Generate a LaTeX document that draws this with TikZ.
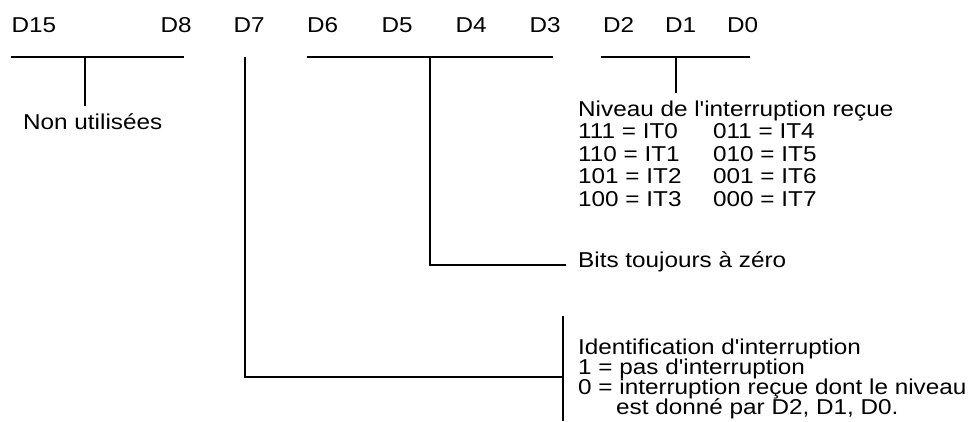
\documentclass[tikz,border=0pt]{standalone}
\usepackage{fontspec}
\newfontfamily\plainsans{Liberation Sans}[FakeStretch=1.13]
\begin{document}
\begin{tikzpicture}[x=1pt,y=-1pt,
  lbl/.style={anchor=base west,inner sep=0pt,font=\plainsans\fontsize{21.5}{21.5}\selectfont},
  wire/.style={line width=1.7pt,line cap=butt}]
\useasboundingbox (0,0) rectangle (972,421);

% register bit names
\node[lbl] (d15) at (11.5,32) {D15};
\node[lbl] (d8)  at (160.5,32) {D8};
\node[lbl] (d7)  at (233.5,32) {D7};
\node[lbl] (d6)  at (307,32) {D6};
\node[lbl] (d5)  at (381.5,32) {D5};
\node[lbl] (d4)  at (455.5,32) {D4};
\node[lbl] (d3)  at (529.5,32) {D3};
\node[lbl] (d2)  at (603,32) {D2};
\node[lbl] (d1)  at (665,32) {D1};
\node[lbl] (d0)  at (727,32) {D0};

% descriptions
\node[lbl] (nonu) at (23,129) {Non utilisées};

\node[lbl] (niv)  at (578,116) {Niveau de l'interruption reçue};
\node[lbl] (l111) at (578,138.5) {111 = IT0};
\node[lbl] (l110) at (578,161) {110 = IT1};
\node[lbl] (l101) at (578,183.5) {101 = IT2};
\node[lbl] (l100) at (578,206) {100 = IT3};
\node[lbl] (l011) at (713,138.5) {011 = IT4};
\node[lbl] (l010) at (713,161) {010 = IT5};
\node[lbl] (l001) at (713,183.5) {001 = IT6};
\node[lbl] (l000) at (713,206) {000 = IT7};

\node[lbl] (bits) at (578,267) {Bits toujours à zéro};

\node[lbl] (ident) at (578,354) {Identification d'interruption};
\node[lbl] (pas)   at (578,374) {1 = pas d'interruption};
\node[lbl] (recue) at (578,394) {0 = interruption reçue dont le niveau};
\node[lbl] (donne) at (616,414) {est donné par D2, D1, D0.};

% bracket over D15..D8
\coordinate (a1) at (11,57);
\coordinate (a2) at (184,57);
\coordinate (am) at (85,57);
\coordinate (ab) at (85,106);
\draw[wire] (a1) -- (a2);
\draw[wire] (am) -- (ab);

% bracket over D6..D3
\coordinate (b1) at (307,57);
\coordinate (b2) at (553,57);
\coordinate (bm) at (430,57);
\coordinate (be) at (566,265);
\draw[wire] (b1) -- (b2);
\draw[wire] (bm) |- (be);

% bracket over D2..D0
\coordinate (c1) at (601,57);
\coordinate (c2) at (750,57);
\coordinate (cm) at (676,57);
\coordinate (cb) at (676,93);
\draw[wire] (c1) -- (c2);
\draw[wire] (cm) -- (cb);

% D7 lead to the side bar
\coordinate (d7t) at (245,57);
\coordinate (d7e) at (563,377);
\coordinate (bar1) at (563,316);
\coordinate (bar2) at (563,421);
\draw[wire] (d7t) |- (d7e);
\draw[wire] (bar1) -- (bar2);
\end{tikzpicture}
\end{document}
